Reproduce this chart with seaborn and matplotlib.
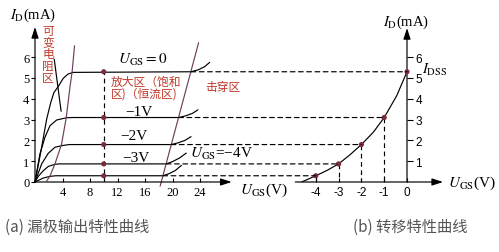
import matplotlib
matplotlib.use("Agg")
import matplotlib.pyplot as plt
import seaborn as sns
from matplotlib.patches import ConnectionPatch

# ---------------- data ----------------
ugs_levels = [0, -1, -2, -3, -4]            # gate-source voltage of each output curve (V)
id_sat = [5.3, 3.1, 1.8, 0.87, 0.3]         # saturated drain current of each curve (mA)
vds_breakdown = [22.7, 20.9, 19.8, 19.1, 18.6]  # where each curve meets the breakdown line (V)

# output (drain) characteristic curves: ohmic rise, flat part, breakdown tail
vds_0 = [0, 0.9, 1.7, 2.3, 2.75, 3.4, 4.1, 4.8, 5.55, 22.7, 23.8, 24.7, 25.4]
id_0 = [0, 1.55, 3.03, 3.83, 4.3, 4.6, 4.98, 5.19, 5.27, 5.3, 5.4, 5.55, 5.75]
vds_1 = [0, 0.72, 1.45, 2.17, 3.14, 4.6, 5.5, 20.9, 21.9, 22.9, 23.7]
id_1 = [0, 1.35, 2.15, 2.7, 2.98, 3.09, 3.1, 3.1, 3.18, 3.3, 3.47]
vds_2 = [0, 0.97, 1.93, 2.9, 4.1, 5.0, 19.8, 20.8, 21.8, 22.7]
id_2 = [0, 0.87, 1.38, 1.67, 1.76, 1.8, 1.8, 1.88, 2.0, 2.18]
vds_3 = [0, 0.5, 1.2, 1.93, 2.9, 3.5, 19.1, 20.0, 21.0, 22.0]
id_3 = [0, 0.28, 0.54, 0.75, 0.85, 0.87, 0.87, 0.98, 1.15, 1.39]
vds_4 = [0, 1.2, 2.17, 3.0, 18.6, 19.5, 20.4, 21.3]
id_4 = [0, 0.19, 0.27, 0.3, 0.3, 0.4, 0.55, 0.8]

# pinch-off locus (boundary of the variable-resistance region)
locus_vds = [1.7, 2.2, 2.9, 3.85, 4.55, 5.1, 5.4, 5.75]
locus_id = [0.05, 0.3, 0.87, 1.8, 3.1, 4.6, 5.3, 6.55]
# breakdown boundary
bd_vds = [18.2, 23.8]
bd_id = [-0.2, 6.7]
# pointer from the region label
ptr_vds = [2.8, 3.8]
ptr_id = [5.9, 3.4]
# operating line used to build the transfer curve
vds_probe = 10

# transfer characteristic
tr_vgs = [-4.62, -4.0, -3.52, -3.0, -2.51, -2.0, -1.48, -1.0, -0.45, 0.0]
tr_id = [0.0, 0.3, 0.55, 0.87, 1.3, 1.8, 2.39, 3.1, 4.15, 5.3]

left_xticks = [4, 8, 12, 16, 20, 24]
left_yticks = [0, 1, 2, 3, 4, 5, 6]
right_xticks = [-4, -3, -2, -1, 0]
right_yticks = [1, 2, 3, 4, 5, 6]

# ---------------- style ----------------
sns.set_theme(style="white")
plt.rcParams["font.family"] = ["Liberation Serif", "Noto Sans CJK SC", "DejaVu Sans"]
plt.rcParams["mathtext.fontset"] = "stix"

W, H = 499, 253
RED = "#c0392b"
PURPLE = "#6e3d5c"
DOT = "#7b2d3b"
LW = 0.85
DASH = (0, (4, 3))

fig = plt.figure(figsize=(W / 100, H / 100), dpi=100)
fig.patch.set_facecolor("white")


def fpos(x, y):
    return x / W, 1 - y / H


# left axes: origin at (35, 183) px, 6.875 px per V, 20.8 px per mA
ax1 = fig.add_axes([35 / W, 70 / H, 200 / W, 160 / H])
ax1.set_xlim(0, 200 / 6.875)
ax1.set_ylim(0, 160 / 20.8)
# right axes: origin at (407, 183) px, 22.8 px per V
ax2 = fig.add_axes([290 / W, 70 / H, 155 / W, 160 / H])
ax2.set_xlim((290 - 407) / 22.8, (445 - 407) / 22.8)
ax2.set_ylim(0, 160 / 20.8)

for ax in (ax1, ax2):
    ax.patch.set_alpha(0)
    for s in ax.spines.values():
        s.set_color("none")

# ---- left panel curves ----
for vx, iy in [(vds_0, id_0), (vds_1, id_1), (vds_2, id_2), (vds_3, id_3), (vds_4, id_4)]:
    sns.lineplot(x=vx, y=iy, ax=ax1, sort=False, estimator=None, color="black", lw=LW)
sns.lineplot(x=locus_vds, y=locus_id, ax=ax1, sort=False, estimator=None, color=PURPLE, lw=LW)
sns.lineplot(x=bd_vds, y=bd_id, ax=ax1, sort=False, estimator=None, color=PURPLE, lw=LW)
for ln in ax1.lines:
    ln.set_clip_on(False)
sns.lineplot(x=ptr_vds, y=ptr_id, ax=ax1, sort=False, estimator=None, color="black", lw=LW)
ax1.plot([vds_probe, vds_probe], [0, id_sat[0]], color="black", lw=LW, linestyle=DASH)
sns.scatterplot(x=[vds_probe] * len(id_sat), y=id_sat, ax=ax1, color=DOT, s=14,
                edgecolor="none", zorder=5)

# ---- right panel ----
sns.lineplot(x=tr_vgs, y=tr_id, ax=ax2, sort=False, estimator=None, color="black", lw=LW)
for vg, i in zip(ugs_levels[1:], id_sat[1:]):
    ax2.plot([vg, vg], [i, 0], color="black", lw=LW, linestyle=DASH)
sns.scatterplot(x=ugs_levels, y=id_sat, ax=ax2, color=DOT, s=14, edgecolor="none", zorder=5)

# dashed links from the output curves to the transfer curve
for vb, vg, i in zip(vds_breakdown, ugs_levels, id_sat):
    con = ConnectionPatch(xyA=(vb, i), coordsA=ax1.transData, xyB=(vg, i),
                          coordsB=ax2.transData, color="black", lw=LW, linestyle=DASH)
    fig.add_artist(con)

# ---- axes with arrows ----
arrow = dict(arrowstyle="-|>,head_length=0.55,head_width=0.18", lw=LW, color="black",
             shrinkA=0, shrinkB=0)
ax1.annotate("", xy=(28.6, 0), xytext=(0, 0), arrowprops=arrow, annotation_clip=False)
ax1.annotate("", xy=(0, 7.45), xytext=(0, 0), arrowprops=arrow, annotation_clip=False)
ax2.annotate("", xy=(1.58, 0), xytext=(-4.9, 0), arrowprops=arrow, annotation_clip=False)
ax2.annotate("", xy=(0, 7.4), xytext=(0, 0), arrowprops=arrow, annotation_clip=False)

# ---- ticks ----
ax1.set_xticks(left_xticks)
ax1.set_xticklabels([str(t) for t in left_xticks])
ax1.set_yticks(left_yticks)
ax1.set_yticklabels([str(t) for t in left_yticks])
ax1.tick_params(axis="x", direction="in", length=3, width=0.8, pad=3, labelsize=9,
                bottom=True, colors="black")
ax1.tick_params(axis="y", direction="out", length=3, width=0.8, pad=1, labelsize=9,
                left=True, colors="black")

ax2.spines["right"].set_position(("data", 0))
ax2.yaxis.tick_right()
ax2.set_xticks(right_xticks)
ax2.set_xticklabels([str(t) for t in right_xticks])
ax2.set_yticks(right_yticks)
ax2.set_yticklabels([str(t) for t in right_yticks])
ax2.tick_params(axis="x", direction="in", length=3, width=0.8, pad=3, labelsize=8.5,
                bottom=True, colors="black")
ax2.tick_params(axis="y", direction="out", length=4, width=0.8, pad=2, labelsize=8.5,
                right=True, colors="black")
for t in ax2.get_xticklabels() + ax2.get_yticklabels():
    t.set_fontfamily("Liberation Sans")

# ---- texts ----
serif = dict(color="black", fontfamily="Liberation Serif", va="center", ha="left")
fig.text(*fpos(10, 15), r"$I_{\rm D}$(mA)", fontsize=10.5, **serif)
fig.text(*fpos(383, 22), r"$I_{\rm D}$(mA)", fontsize=10.5, **serif)
fig.text(*fpos(118, 60), r"$U_{\rm GS}=0$", fontsize=11, **serif)
fig.text(*fpos(125, 112), "−1V", fontsize=11, **serif)
fig.text(*fpos(120, 137), "−2V", fontsize=11, **serif)
fig.text(*fpos(122, 159), "−3V", fontsize=11, **serif)
fig.text(*fpos(190, 154), r"$U_{\rm GS}$=−4V", fontsize=11, **serif)
fig.text(*fpos(240, 190), r"$U_{\rm GS}$(V)", fontsize=11, **serif)
fig.text(*fpos(422, 70), r"$I_{\rm DSS}$", fontsize=10.5, **serif)
fig.text(*fpos(448, 183), r"$U_{\rm GS}$(V)", fontsize=11, **serif)

cjk = dict(color=RED, fontfamily=["Noto Sans CJK SC", "DejaVu Sans"], va="center", ha="left",
           fontsize=8.5)
for k, ch in enumerate("可变电阻区"):
    fig.text(*fpos(48, 31.5 + 11.7 * k), ch, ha="center", va="center", color=RED,
             fontfamily=["Noto Sans CJK SC", "DejaVu Sans"], fontsize=8.5)
fig.text(*fpos(111, 82), "放大区（饱和", **cjk)
fig.text(*fpos(111, 94), "区)（恒流区)", **cjk)
fig.text(*fpos(205, 87), "击穿区", **cjk)

cap = dict(color="#555555", fontfamily=["Noto Sans CJK SC", "DejaVu Sans"], va="center",
           ha="left", fontsize=11)
fig.text(*fpos(5, 227), "(a) 漏极输出特性曲线", **cap)
fig.text(*fpos(353, 227), "(b) 转移特性曲线", **cap)

fig.savefig("out.png", dpi=100)
